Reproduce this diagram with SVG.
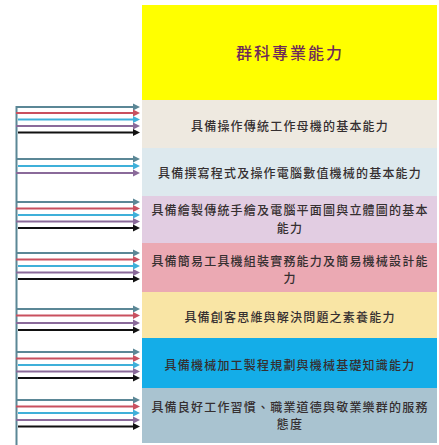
<svg xmlns="http://www.w3.org/2000/svg" width="439" height="445" viewBox="0 0 439 445">
<style>
.lbl{font-family:"Noto Sans CJK TC","Noto Sans CJK SC",sans-serif;font-size:12px;font-weight:500;letter-spacing:1.2px;fill:#352f30;text-anchor:middle;dominant-baseline:central}
.ttl{font-family:"Noto Sans CJK TC","Noto Sans CJK SC",sans-serif;font-size:16px;font-weight:500;letter-spacing:2px;fill:#6e2a5a;text-anchor:middle;dominant-baseline:central}
.ln{fill:none;stroke-width:2}
.g{stroke:#5b8796;marker-end:url(#mg)}
.r{stroke:#c9505f;marker-end:url(#mr)}
.c{stroke:#3fb0d9;marker-end:url(#mc)}
.p{stroke:#8a6a9a;marker-end:url(#mp)}
.k{stroke:#111;marker-end:url(#mk)}
</style>
<defs>
<marker id="mg" markerUnits="userSpaceOnUse" markerWidth="8" markerHeight="8" refX="1" refY="4" orient="auto"><path d="M0,0.5 L7,4 L0,7.5 z" fill="#5b8796"/></marker>
<marker id="mr" markerUnits="userSpaceOnUse" markerWidth="8" markerHeight="8" refX="1" refY="4" orient="auto"><path d="M0,0.5 L7,4 L0,7.5 z" fill="#c9505f"/></marker>
<marker id="mc" markerUnits="userSpaceOnUse" markerWidth="8" markerHeight="8" refX="1" refY="4" orient="auto"><path d="M0,0.5 L7,4 L0,7.5 z" fill="#3fb0d9"/></marker>
<marker id="mp" markerUnits="userSpaceOnUse" markerWidth="8" markerHeight="8" refX="1" refY="4" orient="auto"><path d="M0,0.5 L7,4 L0,7.5 z" fill="#8a6a9a"/></marker>
<marker id="mk" markerUnits="userSpaceOnUse" markerWidth="8" markerHeight="8" refX="1" refY="4" orient="auto"><path d="M0,0.5 L7,4 L0,7.5 z" fill="#111"/></marker>
</defs>
<rect width="439" height="445" fill="#fff"/>
<g id="title"><rect x="142" y="5" width="295" height="95" fill="#ffff00"/><text class="ttl" x="290" y="52">群科專業能力</text></g>
<g id="n1"><rect x="142" y="100" width="295" height="48" fill="#eee9e0"/><text class="lbl" x="290" y="125">具備操作傳統工作母機的基本能力</text></g>
<g id="n2"><rect x="142" y="148" width="295" height="48" fill="#dde9ee"/><text class="lbl" x="290" y="172">具備撰寫程式及操作電腦數值機械的基本能力</text></g>
<g id="n3"><rect x="142" y="196" width="295" height="47" fill="#e2cde2"/><text class="lbl" x="290" y="209">具備繪製傳統手繪及電腦平面圖與立體圖的基本</text><text class="lbl" x="290" y="227">能力</text></g>
<g id="n4"><rect x="142" y="243" width="295" height="49" fill="#eba9b3"/><text class="lbl" x="290" y="260">具備簡易工具機組裝實務能力及簡易機械設計能</text><text class="lbl" x="290" y="277">力</text></g>
<g id="n5"><rect x="142" y="292" width="295" height="46" fill="#f9e5a5"/><text class="lbl" x="290" y="316">具備創客思維與解決問題之素養能力</text></g>
<g id="n6"><rect x="142" y="338" width="295" height="50" fill="#14ade8"/><text class="lbl" x="290" y="364">具備機械加工製程規劃與機械基礎知識能力</text></g>
<g id="n7"><rect x="142" y="388" width="295" height="55" fill="#a9c3d0"/><text class="lbl" x="290" y="406">具備良好工作習慣、職業道德與敬業樂群的服務</text><text class="lbl" x="290" y="423">態度</text></g>
<g id="connectors">
<path class="ln" stroke="#5b8796" d="M16.5,106 V445"/>
<path class="ln g" d="M16,107 H134"/><path class="ln r" d="M16,113 H134"/><path class="ln c" d="M18,119.5 H134"/><path class="ln p" d="M16,126 H134"/><path class="ln k" d="M18,132.5 H134"/>
<path class="ln g" d="M16,159 H134"/><path class="ln c" d="M18,166 H134"/><path class="ln p" d="M16,173 H134"/>
<path class="ln g" d="M16,202 H134"/><path class="ln r" d="M16,208.5 H134"/><path class="ln c" d="M18,215 H134"/><path class="ln p" d="M16,221.5 H134"/><path class="ln k" d="M18,228 H134"/>
<path class="ln g" d="M16,253 H134"/><path class="ln r" d="M16,259.5 H134"/><path class="ln c" d="M18,266 H134"/><path class="ln p" d="M16,272.5 H134"/><path class="ln k" d="M18,279 H134"/>
<path class="ln g" d="M16,309 H134"/><path class="ln r" d="M16,315.5 H134"/><path class="ln p" d="M16,323 H134"/><path class="ln k" d="M18,330 H134"/>
<path class="ln g" d="M16,352 H134"/><path class="ln r" d="M16,358.5 H134"/><path class="ln c" d="M18,365 H134"/><path class="ln p" d="M16,371.5 H134"/><path class="ln k" d="M18,378 H134"/>
<path class="ln g" d="M16,400 H134"/><path class="ln r" d="M16,406.5 H134"/><path class="ln c" d="M18,413 H134"/><path class="ln p" d="M16,420 H134"/><path class="ln k" d="M18,426.5 H134"/>
</g>
</svg>
